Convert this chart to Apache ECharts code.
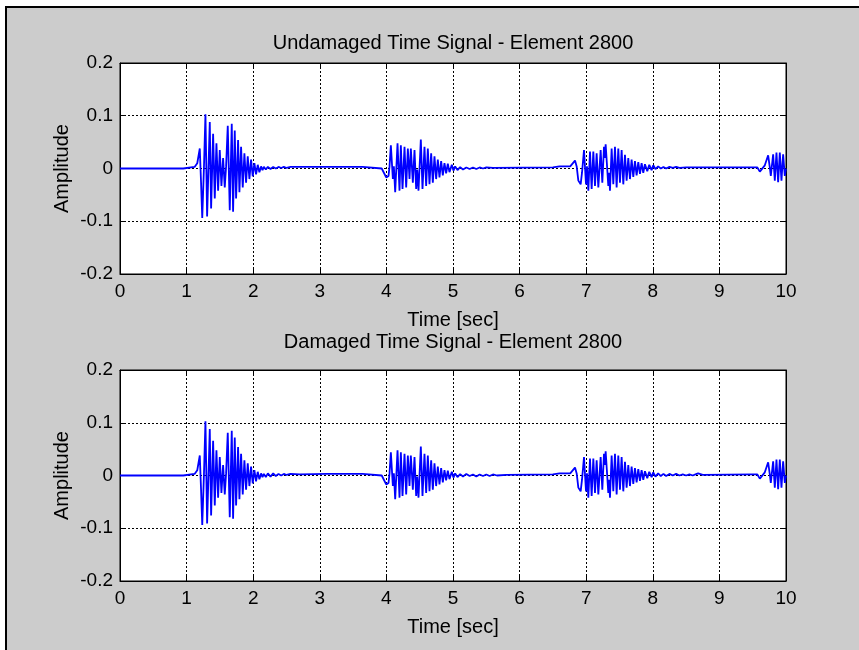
<!DOCTYPE html>
<html>
<head>
<meta charset="utf-8">
<script src="https://cdn.jsdelivr.net/npm/echarts@6/dist/echarts.min.js"></script>
<style>
  html, body { margin: 0; padding: 0; background: #fff; }
  #wrap { position: relative; width: 859px; height: 650px; overflow: hidden; }
  #panel { position: absolute; left: 5px; top: 6px; right: -10px; bottom: -10px;
           background: #cccccc; border-top: 2px solid #000; border-left: 2px solid #000; }
  #chart { position: absolute; left: 0; top: 0; width: 859px; height: 650px; }
</style>
</head>
<body>
<div id="wrap"><div id="panel"></div><div id="chart"></div></div>
<script>
// Axis ticks
const timeTicks = [0, 10, 1];          // min, max, step  (sec)
const ampTicks = [-0.2, 0.2, 0.1];     // min, max, step

// Samples are [time (sec), amplitude]
const leadIn = [[0, 0], [0.95, 0], [0.97, 0.003], [1.12, 0.003], [1.16, 0.01]];

const burst1 = [
  [1.198, 0.038], [1.217, -0.027], [1.235, -0.094], [1.26, 0.0], [1.283, 0.103], [1.308, -0.091],
  [1.348, 0.088], [1.368, -0.076], [1.398, 0.066], [1.423, -0.057], [1.448, 0.048], [1.473, -0.042],
  [1.498, 0.035], [1.523, -0.033], [1.548, 0.020], [1.573, -0.036], [1.593, 0.004], [1.618, 0.081],
  [1.648, -0.079], [1.678, 0.085], [1.698, -0.082], [1.723, 0.072], [1.743, -0.057], [1.773, 0.054],
  [1.793, -0.045], [1.818, 0.041], [1.843, -0.036], [1.868, 0.029], [1.893, -0.027], [1.918, 0.023],
  [1.943, -0.020], [1.968, 0.017], [1.993, -0.015], [2.018, 0.010], [2.043, -0.011], [2.068, 0.007],
  [2.093, -0.007], [2.118, 0.004], [2.14, -0.003]
];

const burst2 = [
  [3.957, -0.003], [3.997, -0.017], [4.032, -0.014], [4.047, 0.004], [4.067, 0.044], [4.097, -0.020],
  [4.112, 0.004], [4.132, -0.045], [4.167, 0.048], [4.197, -0.042], [4.217, 0.044], [4.242, -0.039],
  [4.272, 0.041], [4.297, -0.036], [4.322, 0.038], [4.347, -0.020], [4.367, 0.038], [4.397, -0.027],
  [4.422, 0.035], [4.447, -0.039], [4.462, -0.002], [4.482, -0.042], [4.517, 0.055], [4.542, -0.039],
  [4.572, 0.041], [4.597, -0.033], [4.622, 0.038], [4.647, -0.030], [4.672, 0.029], [4.697, -0.027],
  [4.722, 0.023], [4.747, -0.020], [4.772, 0.017], [4.797, -0.017], [4.822, 0.014], [4.847, -0.013],
  [4.872, 0.010], [4.897, -0.009], [4.922, 0.009], [4.947, -0.007], [4.982, 0.007], [5.007, -0.004],
  [5.032, 0.004], [5.067, -0.003], [5.107, 0.0025]
];

const burst3 = [
  [6.76, 0.004], [6.832, 0.015], [6.857, 0.004], [6.882, -0.023], [6.917, -0.030], [6.937, -0.008],
  [6.967, 0.035], [6.997, -0.030], [7.012, 0.004], [7.032, -0.042], [7.057, 0.032], [7.082, -0.039],
  [7.107, 0.032], [7.132, -0.033], [7.157, 0.029], [7.182, -0.036], [7.217, 0.035], [7.242, -0.027],
  [7.267, 0.041], [7.279, 0.020], [7.292, 0.046], [7.332, -0.033], [7.344, -0.008], [7.357, -0.042],
  [7.382, 0.038], [7.407, -0.030], [7.432, 0.041], [7.457, -0.036], [7.482, 0.038], [7.507, -0.027],
  [7.532, 0.035], [7.557, -0.030], [7.582, 0.026], [7.607, -0.023], [7.632, 0.020], [7.657, -0.020],
  [7.682, 0.017], [7.707, -0.016], [7.732, 0.014], [7.757, -0.013], [7.782, 0.012], [7.807, -0.010],
  [7.832, 0.010], [7.857, -0.008], [7.882, 0.008], [7.917, -0.005], [7.947, 0.007], [7.982, -0.003],
  [8.007, 0.006]
];

const burst4 = [
  [9.57, 0.002], [9.607, -0.006], [9.632, -0.004], [9.682, 0.006], [9.732, 0.025], [9.757, 0.002],
  [9.772, -0.014], [9.807, 0.027], [9.832, -0.023], [9.857, 0.030], [9.882, -0.026], [9.907, 0.030],
  [9.932, -0.023], [9.957, 0.027], [9.982, -0.014], [10.0, 0.0]
];

// Quiet stretches between bursts, undamaged element
const undamagedGap1 = [
  [2.16, 0.003], [2.19, -0.002], [2.22, 0.003], [2.26, -0.001], [2.30, 0.003], [2.34, 0.0],
  [2.38, 0.003], [2.42, 0.001], [2.46, 0.003], [2.50, 0.001], [2.56, 0.003], [3.64, 0.003],
  [3.67, 0.0], [3.93, 0.0]
];
const undamagedGap2 = [
  [5.15, -0.002], [5.20, 0.002], [5.25, -0.001], [5.30, 0.002], [5.35, -0.001], [5.40, 0.002],
  [5.45, 0.0], [5.50, 0.002], [5.60, 0.001], [6.50, 0.002], [6.60, 0.004]
];
const undamagedGap3 = [
  [8.04, -0.001], [8.08, 0.004], [8.12, 0.0], [8.16, 0.003], [8.20, 0.0], [8.25, 0.003],
  [8.30, 0.001], [8.35, 0.003], [8.40, 0.001], [8.50, 0.002], [8.60, 0.002], [9.50, 0.002]
];

// Quiet stretches between bursts, damaged element
const damagedGap1 = [
  [2.16, 0.003], [2.19, -0.003], [2.22, 0.004], [2.26, -0.002], [2.30, 0.004], [2.34, -0.001],
  [2.38, 0.003], [2.42, 0.0], [2.46, 0.003], [2.50, 0.001], [2.56, 0.003], [2.70, 0.002],
  [3.10, 0.003], [3.64, 0.003], [3.67, 0.0], [3.93, 0.0]
];
const damagedGap2 = [
  [5.15, -0.002], [5.20, 0.003], [5.25, -0.001], [5.30, 0.002], [5.35, -0.002], [5.40, 0.002],
  [5.45, -0.001], [5.50, 0.002], [5.55, -0.001], [5.60, 0.002], [5.66, 0.0], [5.80, 0.001],
  [6.50, 0.002], [6.60, 0.004]
];
const damagedGap3 = [
  [8.04, -0.002], [8.08, 0.004], [8.12, -0.001], [8.16, 0.003], [8.20, -0.001], [8.25, 0.003],
  [8.30, 0.0], [8.35, 0.003], [8.40, 0.0], [8.45, 0.002], [8.50, 0.0], [8.55, 0.002],
  [8.60, 0.0], [8.64, 0.002], [8.68, 0.004], [8.75, 0.001], [9.50, 0.002]
];

const undamagedSignal = [].concat(leadIn, burst1, undamagedGap1, burst2, undamagedGap2, burst3, undamagedGap3, burst4);
const damagedSignal = [].concat(leadIn, burst1, damagedGap1, burst2, damagedGap2, burst3, damagedGap3, burst4);

const titles = ['Undamaged Time Signal - Element 2800', 'Damaged Time Signal - Element 2800'];
const xName = 'Time [sec]';
const yName = 'Amplitude';

const FONT = 'Liberation Sans, Arial, Helvetica, sans-serif';
const plotLeft = 120, plotWidth = 666, plotHeight = 211;
const plotTops = [63, 370];
const titleCenters = [43, 342];

const chart = echarts.init(document.getElementById('chart'), null, { renderer: 'canvas' });

const gridLine = { show: true, lineStyle: { color: '#000', width: 1, type: [2, 2] } };
const tickIn = { show: true, inside: true, length: 5, lineStyle: { color: '#000', width: 1 } };
const axisLine = { show: true, onZero: false, lineStyle: { color: '#000', width: 1 } };
const labelStyle = { color: '#000', fontFamily: FONT, fontSize: 19 };

const grids = [], xAxes = [], yAxes = [], series = [], graphics = [];
[undamagedSignal, damagedSignal].forEach((sig, i) => {
  const top = plotTops[i];
  grids.push({ left: plotLeft, top: top, width: plotWidth, height: plotHeight,
               show: true, backgroundColor: '#fff', borderColor: '#000', borderWidth: 1 });
  xAxes.push({ gridIndex: i, type: 'value', position: 'bottom',
               min: timeTicks[0], max: timeTicks[1], interval: timeTicks[2],
               axisLine: axisLine, axisTick: tickIn, splitLine: gridLine,
               axisLabel: Object.assign({ margin: 8 }, labelStyle) });
  xAxes.push({ gridIndex: i, type: 'value', position: 'top',
               min: timeTicks[0], max: timeTicks[1], interval: timeTicks[2],
               axisLine: axisLine, axisTick: tickIn, splitLine: { show: false },
               axisLabel: { show: false } });
  yAxes.push({ gridIndex: i, type: 'value', position: 'left',
               min: ampTicks[0], max: ampTicks[1], interval: ampTicks[2],
               axisLine: axisLine, axisTick: tickIn, splitLine: gridLine,
               axisLabel: Object.assign({ margin: 7,
                 formatter: v => String(Number(v.toFixed(1))) }, labelStyle) });
  yAxes.push({ gridIndex: i, type: 'value', position: 'right',
               min: ampTicks[0], max: ampTicks[1], interval: ampTicks[2],
               axisLine: axisLine, axisTick: tickIn, splitLine: { show: false },
               axisLabel: { show: false } });
  series.push({ type: 'line', xAxisIndex: i * 2, yAxisIndex: i * 2, data: sig,
                showSymbol: false, symbol: 'none', smooth: false,
                lineStyle: { color: '#0000ff', width: 1.8 }, animation: false });

  const cx = plotLeft + plotWidth / 2;
  graphics.push({ type: 'text', x: cx, y: titleCenters[i], style: { text: titles[i], fill: '#000',
                  font: '20px ' + FONT, textAlign: 'center', textVerticalAlign: 'middle' } });
  graphics.push({ type: 'text', x: cx, y: top + plotHeight + 46, style: { text: xName, fill: '#000',
                  font: '20px ' + FONT, textAlign: 'center', textVerticalAlign: 'middle' } });
  graphics.push({ type: 'text', x: 62, y: top + plotHeight / 2, rotation: Math.PI / 2,
                  style: { text: yName, fill: '#000', font: '20px ' + FONT,
                           textAlign: 'center', textVerticalAlign: 'middle' } });
});

chart.setOption({
  animation: false,
  backgroundColor: 'transparent',
  grid: grids,
  xAxis: xAxes,
  yAxis: yAxes,
  series: series,
  graphic: graphics
});
</script>
</body>
</html>
